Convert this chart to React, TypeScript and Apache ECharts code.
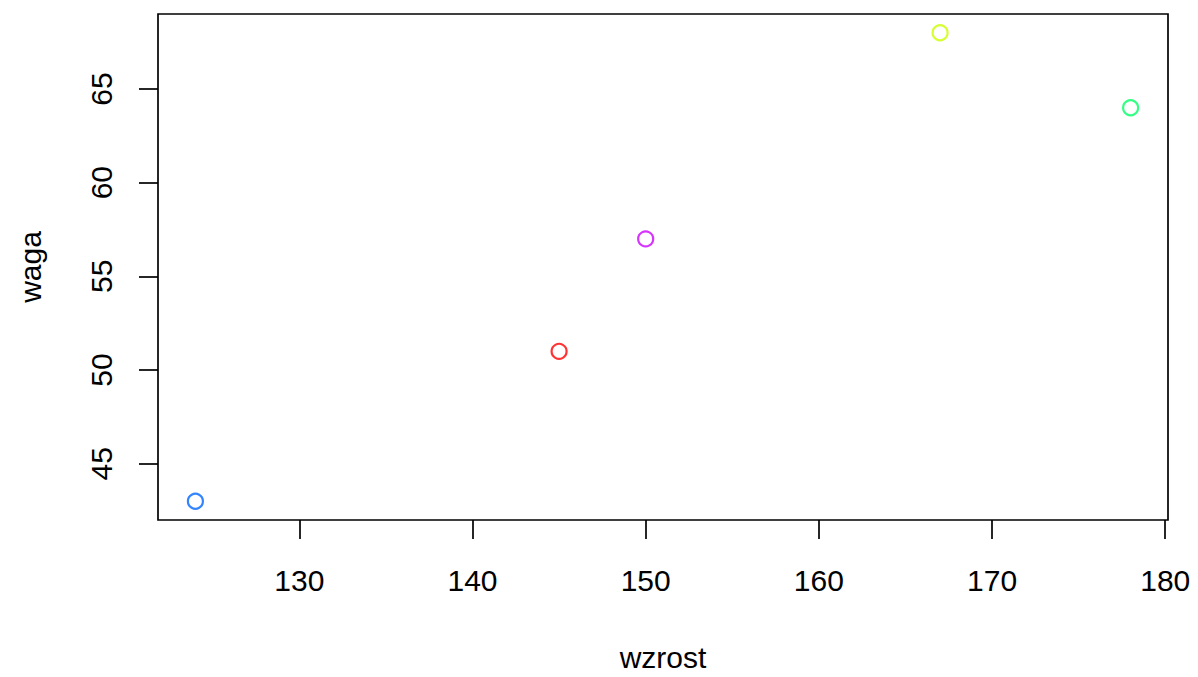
import React, { useEffect, useRef } from "react";
import * as echarts from "echarts";

const wzrost = [145, 167, 178, 124, 150];
const waga = [51, 68, 64, 43, 57];
const pointColors = ["#FF0000", "#CCFF00", "#00FF66", "#0066FF", "#CC00FF"];
const xTicks = [130, 140, 150, 160, 170, 180];
const yTicks = [45, 50, 55, 60, 65];
const xName = "wzrost";
const yName = "waga";

const FONT = "'Liberation Sans', Arial, Helvetica, sans-serif";

export default function App() {
  const ref = useRef<HTMLDivElement>(null);
  useEffect(() => {
    if (!ref.current) return;
    const chart = echarts.init(ref.current, null, { renderer: "svg" });
    const data = wzrost.map((x, i) => ({
      value: [x, waga[i]],
      itemStyle: { color: "transparent", borderColor: pointColors[i], borderWidth: 2.2 },
    }));
    chart.setOption({
      animation: false,
      backgroundColor: "#ffffff",
      textStyle: { fontFamily: FONT },
      grid: {
        left: 158,
        top: 14,
        right: 30,
        bottom: 154,
        show: true,
        borderColor: "#000",
        borderWidth: 1.7,
        backgroundColor: "transparent",
      },
      xAxis: {
        type: "value",
        min: 121.84,
        max: 180.16,
        name: xName,
        nameLocation: "middle",
        nameGap: 122,
        nameTextStyle: { fontSize: 30, color: "#000", fontFamily: FONT },
        axisLine: { show: false },
        splitLine: { show: false },
        axisTick: {
          show: true,
          inside: false,
          length: 19,
          customValues: xTicks,
          lineStyle: { color: "#000", width: 1.7 },
        },
        axisLabel: {
          customValues: xTicks,
          margin: 45,
          fontSize: 30,
          color: "#000",
          fontFamily: FONT,
        },
      },
      yAxis: {
        type: "value",
        min: 42,
        max: 69,
        name: yName,
        nameLocation: "middle",
        nameGap: 113,
        nameRotate: 90,
        nameTextStyle: { fontSize: 30, color: "#000", fontFamily: FONT },
        axisLine: { show: false },
        splitLine: { show: false },
        axisTick: {
          show: true,
          inside: false,
          length: 19,
          customValues: yTicks,
          lineStyle: { color: "#000", width: 1.7 },
        },
        axisLabel: {
          customValues: yTicks,
          rotate: 90,
          margin: 42,
          fontSize: 30,
          color: "#000",
          fontFamily: FONT,
        },
      },
      series: [
        {
          type: "scatter",
          symbol: "circle",
          symbolSize: 15,
          data,
        },
      ],
    });
    return () => chart.dispose();
  }, []);
  return (
    <div
      ref={ref}
      style={{ position: "fixed", left: 0, top: 0, width: 1198, height: 677 }}
    />
  );
}
